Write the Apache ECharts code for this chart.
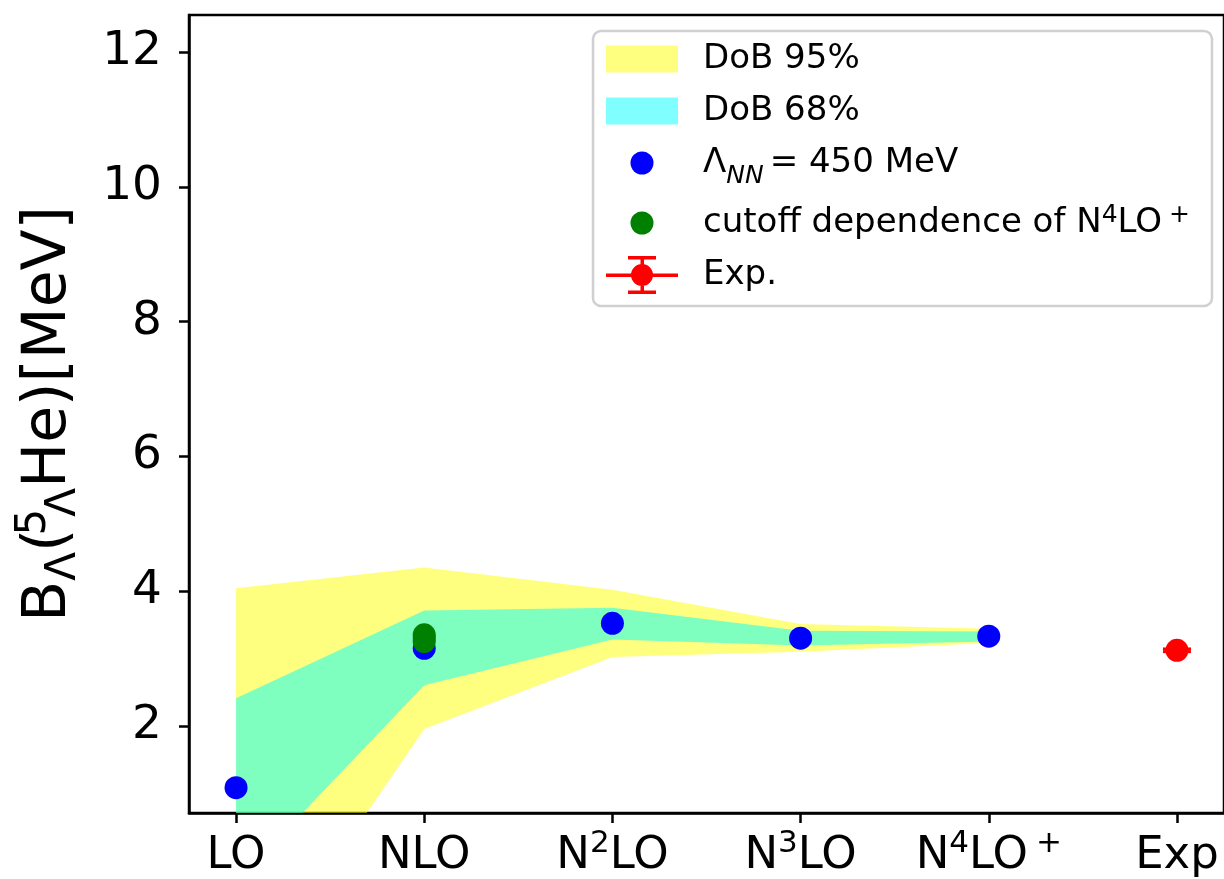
<!DOCTYPE html>
<html>
<head>
<meta charset="utf-8">
<script src="https://cdn.jsdelivr.net/npm/echarts@6/dist/echarts.min.js"></script>
<style>
  html, body { margin: 0; padding: 0; background: #fff; }
  #chart { width: 1224px; height: 879px; }
</style>
</head>
<body>
<div id="chart"></div>
<script>
// Order labels on the x axis (rich-text markup for superscripts)
const orders = ['LO', 'NLO', 'N{sup|2}LO', 'N{sup|3}LO', 'N{sup|4}LO{supp|+}', 'Exp'];
const orderPos = [0, 1, 2, 3, 4, 5];
const yTicks = [2, 4, 6, 8, 10, 12];

// Degree-of-belief bands, LO .. N4LO+
const bandX = [0, 1, 2, 3, 4];
const dob95Low = [-2.12, 1.95, 3.02, 3.10, 3.23];
const dob95High = [4.04, 4.35, 4.02, 3.51, 3.44];
const dob68Low = [-0.33, 2.60, 3.28, 3.19, 3.25];
const dob68High = [2.41, 3.71, 3.75, 3.41, 3.40];

// Lambda separation energies for Lambda_NN = 450 MeV
const lambda450 = [1.08, 3.15, 3.52, 3.30, 3.33];

// Cutoff dependence points
const cutoffX = [1, 1, 1];
const cutoffY = [3.25, 3.30, 3.35];

// Experiment
const expX = 5;
const expY = 3.12;
const expErr = 0.02;

const FONT = 'DejaVu Sans';

function bandRender(low, high) {
  return function (params, api) {
    if (params.dataIndex !== 0) return null;
    const pts = [];
    for (let i = 0; i < bandX.length; i++) pts.push(api.coord([bandX[i], high[i]]));
    for (let i = bandX.length - 1; i >= 0; i--) pts.push(api.coord([bandX[i], low[i]]));
    return {
      type: 'polygon',
      shape: { points: pts },
      style: { fill: api.visual('color') }
    };
  };
}

// Legend glyphs share one 72x38 box so they scale alike
const BOX = 'M0,0M72,38';
const rectIcon = 'path://' + BOX + 'M0,5.5h72v27h-72z';
const dotIcon = 'path://' + BOX + 'M24.5,19a11.5,11.5 0 1,1 23,0a11.5,11.5 0 1,1 -23,0z';
const errIcon = 'path://' + BOX +
  'M0,17.5h72v3.5h-72z' +
  'M34.5,1h3.5v36h-3.5z' +
  'M22,0h28v3.5h-28z' +
  'M22,34.5h28v3.5h-28z' +
  'M25,19a11,11 0 1,1 22,0a11,11 0 1,1 -22,0z';

const chart = echarts.init(document.getElementById('chart'), null, { renderer: 'canvas' });

chart.setOption({
  animation: false,
  backgroundColor: '#fff',
  textStyle: { fontFamily: FONT },
  grid: {
    left: 189, top: 15, right: 0, bottom: 66,
    containLabel: false,
    outerBoundsMode: 'none',
    show: true, borderColor: '#000', borderWidth: 2.5, backgroundColor: 'transparent'
  },
  xAxis: {
    type: 'value', min: -0.25, max: 5.25,
    splitLine: { show: false },
    axisLine: { show: true, onZero: false, lineStyle: { color: '#000', width: 2.5 } },
    axisTick: { show: true, customValues: orderPos, length: 10, lineStyle: { color: '#000', width: 2.5 } },
    axisLabel: {
      customValues: orderPos,
      margin: 15,
      color: '#000',
      fontFamily: FONT,
      fontSize: 45,
      hideOverlap: false,
      formatter: function (v) {
        const i = Math.round(v);
        return '{m|' + orders[i].replace(/\{(sup|supp)\|([^}]*)\}/g, '}{$1|$2}{m|') + '}';
      },
      rich: {
        m: { fontFamily: FONT, fontSize: 45, lineHeight: 56, color: '#000' },
        sup: { fontFamily: FONT, fontSize: 31, lineHeight: 30, verticalAlign: 'top', color: '#000' },
        supp: { fontFamily: FONT, fontSize: 31, lineHeight: 30, verticalAlign: 'top', color: '#000', padding: [0, 0, 0, 8] }
      }
    }
  },
  yAxis: {
    type: 'value', min: 0.705, max: 12.55,
    splitLine: { show: false },
    axisLine: { show: true, onZero: false, lineStyle: { color: '#000', width: 2.5 } },
    axisTick: { show: true, customValues: yTicks, length: 10, lineStyle: { color: '#000', width: 2.5 } },
    axisLabel: {
      customValues: yTicks, margin: 27, color: '#000', fontFamily: FONT, fontSize: 47
    },
    name: '{m|B}{sub|Λ}{m|(}{sup5|5}{subL|Λ}{m|He)[MeV]}',
    nameLocation: 'middle',
    nameRotate: 90,
    nameGap: 104,
    nameTextStyle: {
      color: '#000',
      fontFamily: FONT,
      rich: {
        m: { fontFamily: FONT, fontSize: 60, lineHeight: 72, color: '#000' },
        sub: { fontFamily: FONT, fontSize: 42, lineHeight: 42, verticalAlign: 'bottom', color: '#000' },
        subL: { fontFamily: FONT, fontSize: 42, lineHeight: 42, verticalAlign: 'bottom', color: '#000', padding: [0, 0, 0, 5] },
        sup5: { fontFamily: FONT, fontSize: 42, lineHeight: 40, verticalAlign: 'top', align: 'left', width: 1, color: '#000', padding: [0, 0, 0, 6] }
      }
    }
  },
  legend: {
    orient: 'vertical',
    left: 593, top: 31,
    padding: [9, 22, 12, 13],
    itemWidth: 72, itemHeight: 38, itemGap: 14,
    backgroundColor: '#fff',
    borderColor: '#d0d0d0', borderWidth: 2.5, borderRadius: 8,
    textStyle: {
      fontFamily: FONT, fontSize: 34, color: '#000',
      padding: [0, 0, 0, 20],
      rich: {
        t: { fontFamily: FONT, fontSize: 34, lineHeight: 40, color: '#000' },
        eq: { fontFamily: FONT, fontSize: 34, lineHeight: 40, color: '#000', padding: [0, 0, 0, 6] },
        sub: { fontFamily: FONT, fontStyle: 'italic', fontSize: 25, lineHeight: 25, verticalAlign: 'bottom', color: '#000', padding: [0, 0, -6, 0] },
        sup: { fontFamily: FONT, fontSize: 25, lineHeight: 24, verticalAlign: 'top', color: '#000' },
        supp: { fontFamily: FONT, fontSize: 25, lineHeight: 24, verticalAlign: 'top', color: '#000', padding: [0, 0, 0, 7] }
      }
    },
    formatter: function (name) {
      if (name === 'lambda450') return '{t|Λ}{sub|NN}{eq|= 450 MeV}';
      if (name === 'cutoff') return '{t|cutoff dependence of N}{sup|4}{t|LO}{supp|+}';
      return '{t|' + name + '}';
    },
    data: [
      { name: 'DoB 95%', icon: rectIcon },
      { name: 'DoB 68%', icon: rectIcon },
      { name: 'lambda450', icon: dotIcon },
      { name: 'cutoff', icon: dotIcon },
      { name: 'Exp.', icon: errIcon }
    ]
  },
  series: [
    {
      name: 'DoB 95%', type: 'custom', clip: true,
      itemStyle: { color: 'rgba(255,255,0,0.5)' },
      renderItem: bandRender(dob95Low, dob95High),
      data: [[0, 0]], z: 1
    },
    {
      name: 'DoB 68%', type: 'custom', clip: true,
      itemStyle: { color: 'rgba(0,255,255,0.5)' },
      renderItem: bandRender(dob68Low, dob68High),
      data: [[0, 0]], z: 2
    },
    {
      name: 'lambda450', type: 'scatter', symbol: 'circle', symbolSize: 23,
      itemStyle: { color: '#0000ff', opacity: 1 },
      data: bandX.map((x, i) => [x, lambda450[i]]), z: 3
    },
    {
      name: 'cutoff', type: 'scatter', symbol: 'circle', symbolSize: 23,
      itemStyle: { color: '#008000', opacity: 1 },
      data: cutoffX.map((x, i) => [x, cutoffY[i]]), z: 4
    },
    {
      name: 'Exp.', type: 'custom', clip: false,
      itemStyle: { color: '#ff0000' },
      z: 5,
      renderItem: function (params, api) {
        const x = api.value(0), y = api.value(1), e = api.value(2);
        const top = api.coord([x, y + e]);
        const bot = api.coord([x, y - e]);
        const c = api.coord([x, y]);
        const half = 14;
        const ls = { stroke: '#ff0000', lineWidth: 3 };
        return {
          type: 'group',
          children: [
            { type: 'line', shape: { x1: top[0], y1: top[1], x2: bot[0], y2: bot[1] }, style: ls },
            { type: 'line', shape: { x1: top[0] - half, y1: top[1], x2: top[0] + half, y2: top[1] }, style: ls },
            { type: 'line', shape: { x1: bot[0] - half, y1: bot[1], x2: bot[0] + half, y2: bot[1] }, style: ls },
            { type: 'circle', shape: { cx: c[0], cy: c[1], r: 11.5 }, style: { fill: '#ff0000' } }
          ]
        };
      },
      data: [[expX, expY, expErr]]
    }
  ]
});
</script>
</body>
</html>
